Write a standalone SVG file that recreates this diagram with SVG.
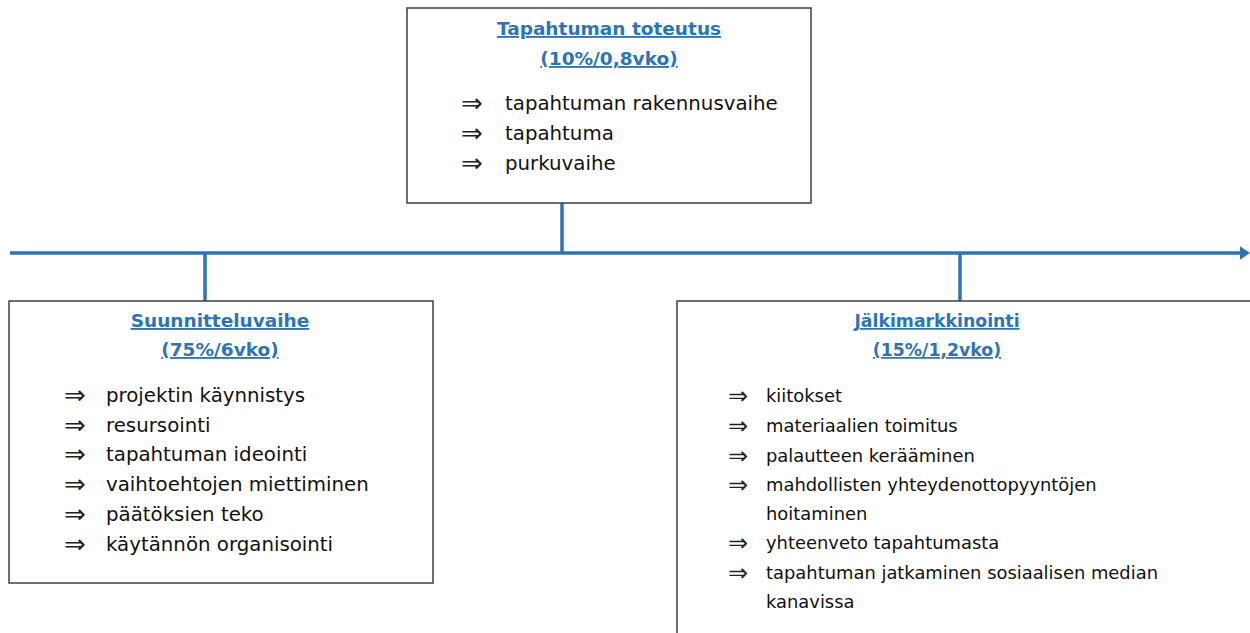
<svg xmlns="http://www.w3.org/2000/svg" width="1250" height="633" viewBox="0 0 1250 633">
<style>
.box{fill:#fff;stroke:#3f3f3f;stroke-width:1.5}
.ttl{font-family:"DejaVu Sans",sans-serif;font-weight:bold;font-size:18.5px;fill:#2E74B5;text-decoration:underline;text-anchor:middle}
.it{font-family:"DejaVu Sans",sans-serif;font-size:19.8px;fill:#111}
.ar{font-family:"DejaVu Sans",sans-serif;font-size:26px;fill:#222}
#jalkimarkkinointi .ttl{font-size:17.3px}
#jalkimarkkinointi .it{font-size:17.9px}
#jalkimarkkinointi .ar{font-size:24px}
.ln{stroke:#2E74B5;stroke-width:3.5;fill:none}
</style>
<defs>
<marker id="ah" markerWidth="4" markerHeight="4" refX="1" refY="2" orient="auto" markerUnits="strokeWidth">
<path d="M0,0 L3,2 L0,4 Z" fill="#2E74B5"/>
</marker>
</defs>
<g id="connectors">
<line class="ln" x1="10" y1="253" x2="1243" y2="253" marker-end="url(#ah)"/>
<line class="ln" x1="562" y1="203" x2="562" y2="253"/>
<line class="ln" x1="205" y1="253" x2="205" y2="301"/>
<line class="ln" x1="960" y1="253" x2="960" y2="301"/>
</g>
<g id="toteutus">
<rect class="box" x="407" y="8" width="404" height="195"/>
<text class="ttl" x="609" y="35">Tapahtuman toteutus</text>
<text class="ttl" x="609" y="65">(10%/0,8vko)</text>
<text class="ar" x="461" y="112">⇒</text><text class="it" x="505" y="110">tapahtuman rakennusvaihe</text>
<text class="ar" x="461" y="142">⇒</text><text class="it" x="505" y="140">tapahtuma</text>
<text class="ar" x="461" y="172">⇒</text><text class="it" x="505" y="170">purkuvaihe</text>
</g>
<g id="suunnittelu">
<rect class="box" x="9" y="301" width="424" height="282"/>
<text class="ttl" x="220" y="327">Suunnitteluvaihe</text>
<text class="ttl" x="220" y="356">(75%/6vko)</text>
<text class="ar" x="64" y="404">⇒</text><text class="it" x="106" y="402">projektin käynnistys</text>
<text class="ar" x="64" y="434">⇒</text><text class="it" x="106" y="432">resursointi</text>
<text class="ar" x="64" y="463">⇒</text><text class="it" x="106" y="461">tapahtuman ideointi</text>
<text class="ar" x="64" y="493">⇒</text><text class="it" x="106" y="491">vaihtoehtojen miettiminen</text>
<text class="ar" x="64" y="523">⇒</text><text class="it" x="106" y="521">päätöksien teko</text>
<text class="ar" x="64" y="553">⇒</text><text class="it" x="106" y="551">käytännön organisointi</text>
</g>
<g id="jalkimarkkinointi">
<rect class="box" x="677" y="301" width="600" height="360"/>
<text class="ttl" x="937" y="327">Jälkimarkkinointi</text>
<text class="ttl" x="937" y="356">(15%/1,2vko)</text>
<text class="ar" x="728" y="404">⇒</text><text class="it" x="766" y="402">kiitokset</text>
<text class="ar" x="728" y="434">⇒</text><text class="it" x="766" y="432">materiaalien toimitus</text>
<text class="ar" x="728" y="464">⇒</text><text class="it" x="766" y="462">palautteen kerääminen</text>
<text class="ar" x="728" y="493">⇒</text><text class="it" x="766" y="491">mahdollisten yhteydenottopyyntöjen</text>
<text class="it" x="766" y="520">hoitaminen</text>
<text class="ar" x="728" y="551">⇒</text><text class="it" x="766" y="549">yhteenveto tapahtumasta</text>
<text class="ar" x="728" y="581">⇒</text><text class="it" x="766" y="579">tapahtuman jatkaminen sosiaalisen median</text>
<text class="it" x="766" y="608">kanavissa</text>
</g>
</svg>
